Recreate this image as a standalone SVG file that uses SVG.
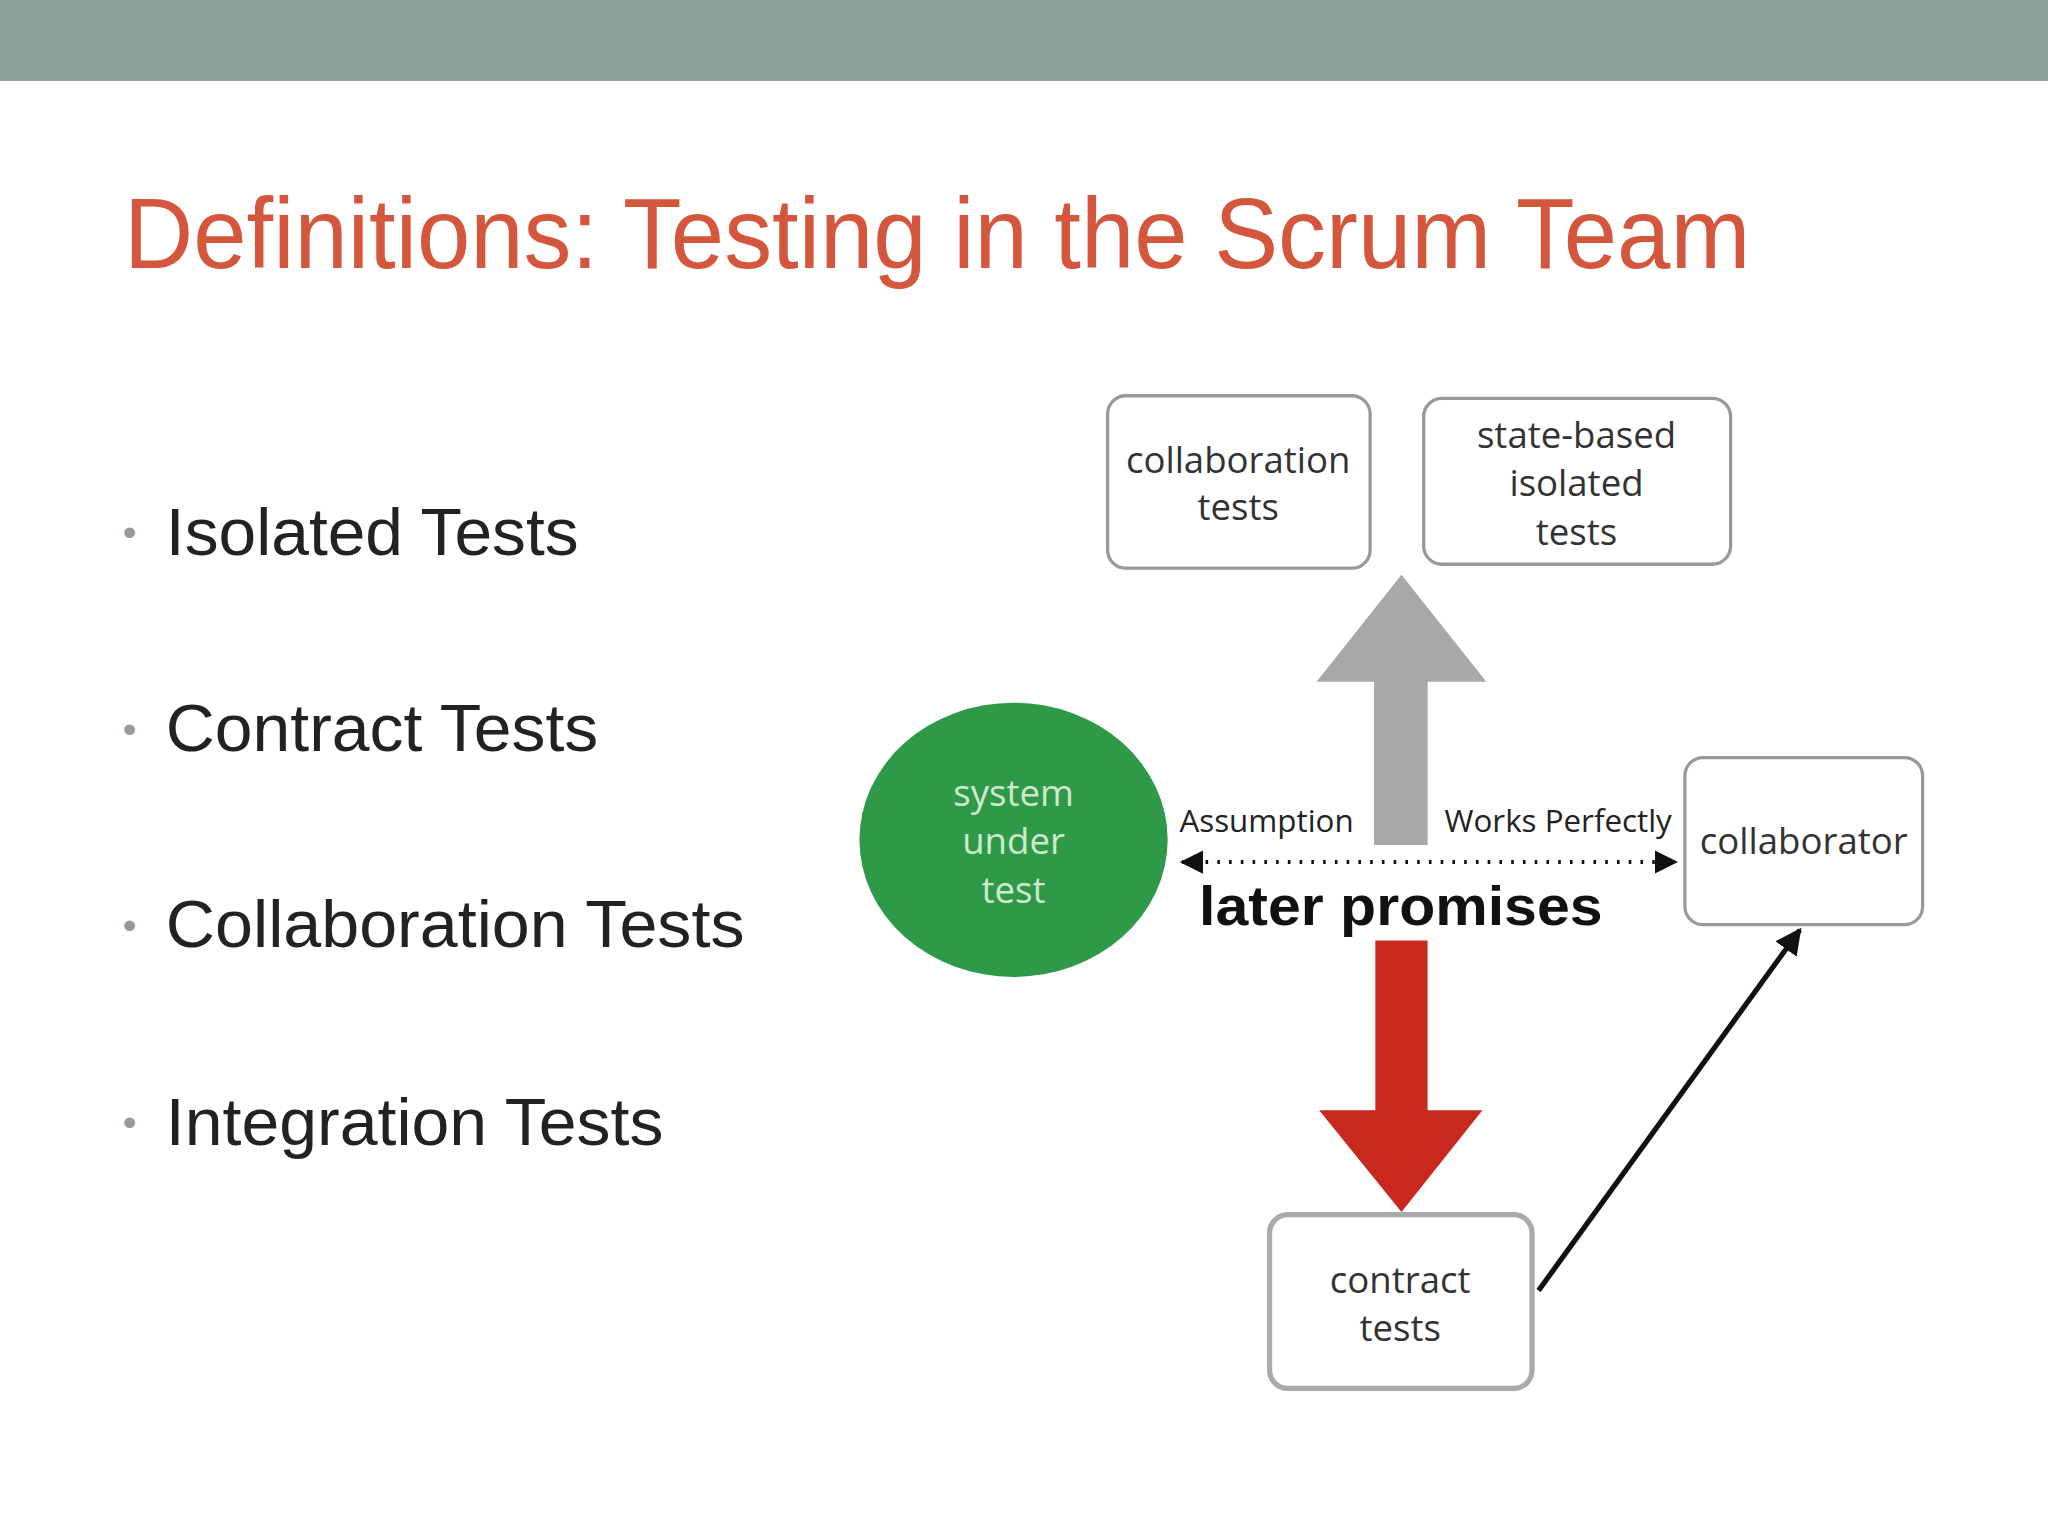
<svg xmlns="http://www.w3.org/2000/svg" width="2048" height="1536" viewBox="0 0 2048 1536">
<defs>
<style>
.box{fill:#fff;stroke:#999;stroke-width:2.5}
.bt{font-family:"Open Sans","Liberation Sans",sans-serif;font-size:28px;fill:#333;text-anchor:middle}
.bul{font-family:"Liberation Sans",Arial,sans-serif;font-size:51px;fill:#222}
.dot{font-family:"Liberation Sans",sans-serif;font-size:30px;fill:#999}
</style>
<marker id="ah" viewBox="0 0 10 10" refX="9" refY="5" markerWidth="6" markerHeight="6" orient="auto-start-reverse"><path d="M0,0L10,5L0,10z" fill="#111"/></marker>
<marker id="bh" viewBox="0 0 10 10" refX="9" refY="5" markerWidth="5" markerHeight="5" orient="auto"><path d="M0,0L10,5L0,10z" fill="#111"/></marker>
</defs>
<rect width="2048" height="1536" fill="#fff"/>
<g transform="scale(1.30612)">
<rect x="0" y="0" width="1568" height="62" fill="#8fa39a"/>
<text x="95" y="205" font-family="Liberation Sans,Arial,sans-serif" font-size="76" textLength="1245" lengthAdjust="spacingAndGlyphs" fill="#d4573d">Definitions: Testing in the Scrum Team</text>
<g id="bullets">
<text class="dot" x="94" y="418">•</text><text class="bul" x="127" y="425" textLength="316" lengthAdjust="spacingAndGlyphs">Isolated Tests</text>
<text class="dot" x="94" y="569">•</text><text class="bul" x="127" y="575" textLength="331" lengthAdjust="spacingAndGlyphs">Contract Tests</text>
<text class="dot" x="94" y="719">•</text><text class="bul" x="127" y="725" textLength="443" lengthAdjust="spacingAndGlyphs">Collaboration Tests</text>
<text class="dot" x="94" y="870">•</text><text class="bul" x="127" y="877" textLength="381" lengthAdjust="spacingAndGlyphs">Integration Tests</text>
</g>
<g id="connectors">
<path d="M1052,647V522H1008L1073,440L1138,522H1093V647Z" fill="#a8a8a8"/>
<path d="M1053,720V850H1010L1073,928L1135,850H1093V720Z" fill="#c8281e"/>
<line x1="905" y1="660" x2="1283" y2="660" stroke="#111" stroke-width="3" stroke-dasharray="2 7" marker-start="url(#ah)" marker-end="url(#ah)"/>
<line x1="1178" y1="988" x2="1378" y2="712" stroke="#111" stroke-width="4" marker-end="url(#bh)"/>
<text x="903" y="637" font-family="Open Sans,Liberation Sans,sans-serif" font-size="24" fill="#222">Assumption</text>
<text x="1106" y="637" font-family="Open Sans,Liberation Sans,sans-serif" font-size="24" fill="#222">Works Perfectly</text>
<text x="918" y="708" font-family="Liberation Sans,Arial,sans-serif" font-weight="bold" font-size="43" textLength="309" lengthAdjust="spacingAndGlyphs" fill="#111">later promises</text>
</g>
<g id="collab"><rect class="box" x="848" y="303" width="201" height="132" rx="14"/><text class="bt" x="948" y="362">collaboration</text><text class="bt" x="948" y="398">tests</text></g>
<g id="state"><rect class="box" x="1090" y="305" width="235" height="127" rx="14"/><text class="bt" x="1207" y="343">state-based</text><text class="bt" x="1207" y="380">isolated</text><text class="bt" x="1207" y="417">tests</text></g>
<g id="collaborator"><rect class="box" x="1290" y="580" width="182" height="128" rx="14"/><text class="bt" x="1381" y="654">collaborator</text></g>
<g id="contract"><rect class="box" x="972" y="930" width="201" height="133" rx="14" style="stroke-width:4;stroke:#aaa"/><text class="bt" x="1072" y="990">contract</text><text class="bt" x="1072" y="1027">tests</text></g>
<g id="sut"><ellipse cx="776" cy="643" rx="118" ry="105" fill="#2e9a47"/><text class="bt" x="776" y="617" style="fill:#cfe8d0">system</text><text class="bt" x="776" y="654" style="fill:#cfe8d0">under</text><text class="bt" x="776" y="691" style="fill:#cfe8d0">test</text></g>
</g>
</svg>
